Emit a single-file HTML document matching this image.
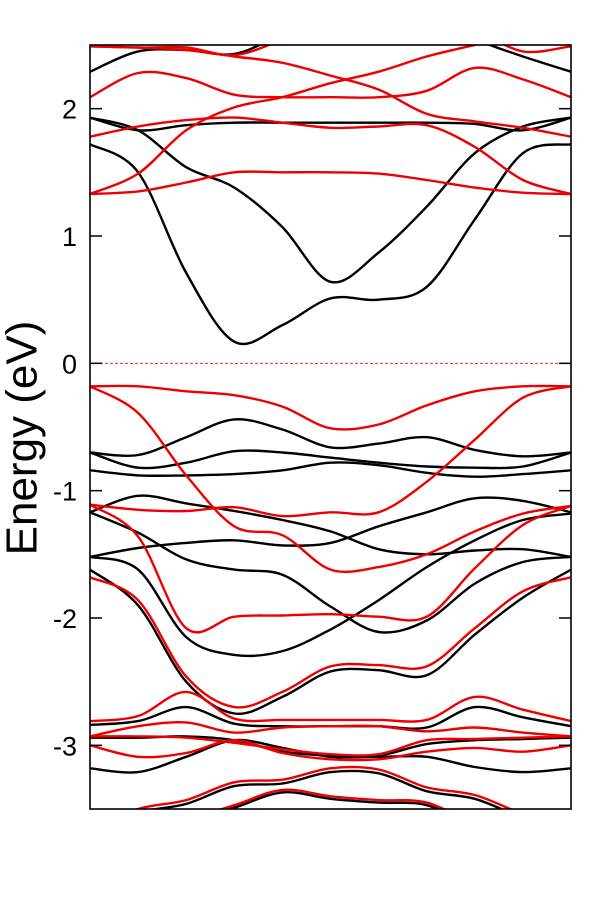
<!DOCTYPE html>
<html><head><meta charset="utf-8"><style>
html,body{margin:0;padding:0;background:#fff;}
#wrap{width:601px;height:900px;position:relative;}
svg text{font-family:"Liberation Sans",Arial,sans-serif;}
</style></head><body>
<div id="wrap">
<svg id="chart" width="601" height="900" viewBox="0 0 601 900">
<defs><clipPath id="plotclip"><rect x="90" y="45" width="481" height="764"/></clipPath></defs>
<g id="bands" clip-path="url(#plotclip)"></g>
<g id="axes"></g>
<text x="25" y="438" transform="rotate(-90 25 438)" font-size="44" text-anchor="middle" dominant-baseline="middle" fill="#000">Energy (eV)</text>
</svg>
</div>
<script>
const kPoints = [0,0.1,0.2,0.3,0.4,0.5,0.6,0.7,0.8,0.9,1.0];
const yTicks = [2,1,0,-1,-2,-3];
const yTickLabels = ["2","1","0","-1","-2","-3"];
const fermiLevel = 0;
const blackBands = [
 [1.72,1.50,0.71,0.17,0.30,0.51,0.50,0.60,1.13,1.65,1.72],
 [1.93,1.83,1.54,1.38,1.07,0.64,0.87,1.23,1.65,1.86,1.93],
 [1.93,1.83,1.87,1.89,1.89,1.89,1.89,1.89,1.88,1.83,1.93],
 [2.29,2.45,2.46,2.43,2.58,2.70,2.70,2.66,2.54,2.41,2.29],
 [-0.70,-0.72,-0.58,-0.44,-0.52,-0.66,-0.63,-0.58,-0.68,-0.73,-0.70],
 [-0.70,-0.82,-0.78,-0.69,-0.70,-0.74,-0.78,-0.81,-0.82,-0.81,-0.70],
 [-0.84,-0.88,-0.88,-0.87,-0.84,-0.78,-0.80,-0.86,-0.89,-0.87,-0.84],
 [-1.17,-1.04,-1.10,-1.16,-1.23,-1.32,-1.46,-1.50,-1.47,-1.46,-1.52],
 [-1.52,-1.45,-1.41,-1.39,-1.43,-1.41,-1.28,-1.17,-1.06,-1.08,-1.17],
 [-1.17,-1.33,-1.54,-1.62,-1.66,-1.91,-2.11,-2.02,-1.73,-1.56,-1.52],
 [-1.52,-1.62,-2.15,-2.29,-2.26,-2.09,-1.86,-1.60,-1.39,-1.23,-1.18],
 [-1.62,-1.90,-2.50,-2.75,-2.62,-2.42,-2.41,-2.45,-2.13,-1.84,-1.62],
 [-2.84,-2.81,-2.70,-2.83,-2.85,-2.85,-2.85,-2.86,-2.70,-2.78,-2.85],
 [-3.18,-3.21,-3.09,-2.96,-3.02,-3.09,-3.09,-3.09,-3.17,-3.21,-3.18],
 [-2.94,-2.94,-2.93,-2.96,-3.05,-3.08,-3.08,-2.99,-2.96,-2.95,-2.94],
 [-3.69,-3.53,-3.46,-3.32,-3.30,-3.21,-3.22,-3.36,-3.42,-3.57,-3.69],
 [-3.76,-3.68,-3.60,-3.49,-3.37,-3.42,-3.45,-3.47,-3.64,-3.76,-3.76]
];
const redBands = [
 [1.33,1.35,1.42,1.50,1.50,1.50,1.49,1.44,1.38,1.34,1.33],
 [1.33,1.49,1.83,2.01,2.09,2.20,2.29,2.41,2.50,2.58,2.62],
 [2.49,2.48,2.46,2.41,2.36,2.26,2.15,1.96,1.90,1.85,1.78],
 [1.78,1.86,1.91,1.93,1.89,1.85,1.86,1.87,1.70,1.44,1.33],
 [2.09,2.28,2.24,2.11,2.09,2.09,2.09,2.14,2.32,2.23,2.09],
 [2.49,2.48,2.48,2.42,2.54,2.66,2.74,2.74,2.62,2.45,2.49],
 [-0.18,-0.18,-0.22,-0.25,-0.34,-0.51,-0.48,-0.33,-0.22,-0.18,-0.18],
 [-0.18,-0.39,-0.88,-1.28,-1.35,-1.62,-1.60,-1.50,-1.32,-1.18,-1.12],
 [-1.11,-1.15,-1.16,-1.13,-1.20,-1.17,-1.17,-0.93,-0.60,-0.27,-0.18],
 [-1.11,-1.36,-2.08,-1.99,-1.98,-1.97,-1.99,-1.99,-1.61,-1.27,-1.12],
 [-1.68,-1.86,-2.46,-2.70,-2.58,-2.38,-2.37,-2.38,-2.08,-1.79,-1.68],
 [-2.81,-2.77,-2.58,-2.79,-2.80,-2.80,-2.80,-2.80,-2.62,-2.72,-2.81],
 [-2.93,-2.85,-2.82,-2.90,-2.86,-2.85,-2.85,-2.89,-2.86,-2.90,-2.93],
 [-3.00,-3.09,-3.06,-2.96,-3.06,-3.11,-3.11,-3.05,-3.02,-3.05,-3.00],
 [-2.93,-2.93,-2.94,-2.98,-3.03,-3.07,-3.07,-2.96,-2.95,-2.94,-2.93],
 [-3.66,-3.50,-3.43,-3.29,-3.27,-3.18,-3.19,-3.33,-3.39,-3.54,-3.66],
 [-3.74,-3.66,-3.58,-3.47,-3.35,-3.40,-3.43,-3.45,-3.62,-3.74,-3.74]
];
const X0=90,X1=571,Y0=45,Y1=809,EMIN=-3.5,EMAX=2.5;
function xScale(k){return X0+(k-kPoints[0])/(kPoints[kPoints.length-1]-kPoints[0])*(X1-X0);}
function yScale(e){return Y1-(e-EMIN)/(EMAX-EMIN)*(Y1-Y0);}
const NS="http://www.w3.org/2000/svg";
function smoothPath(vals){
  const p=vals.map((v,i)=>[xScale(kPoints[i]),yScale(v)]);
  let d="M"+p[0][0].toFixed(1)+","+p[0][1].toFixed(1);
  for(let i=0;i<p.length-1;i++){
    const a=p[i-1]||p[i],b=p[i],c=p[i+1],e=p[i+2]||p[i+1];
    const c1=[b[0]+(c[0]-a[0])/6,b[1]+(c[1]-a[1])/6];
    const c2=[c[0]-(e[0]-b[0])/6,c[1]-(e[1]-b[1])/6];
    d+=" C"+c1[0].toFixed(1)+","+c1[1].toFixed(1)+" "+c2[0].toFixed(1)+","+c2[1].toFixed(1)+" "+c[0].toFixed(1)+","+c[1].toFixed(1);
  }
  return d;
}
const bandsG=document.getElementById('bands');
const fl=document.createElementNS(NS,'line');
fl.setAttribute('x1',X0);fl.setAttribute('x2',X1);
fl.setAttribute('y1',yScale(fermiLevel));fl.setAttribute('y2',yScale(fermiLevel));
fl.setAttribute('stroke','#e83030');fl.setAttribute('stroke-width','1');fl.setAttribute('stroke-dasharray','3,2');


bandsG.appendChild(fl);
blackBands.forEach((b,i)=>{
  const path=document.createElementNS(NS,'path');
  path.setAttribute('d',smoothPath(b));
  path.setAttribute('fill','none');path.setAttribute('stroke','#000');path.setAttribute('stroke-width','2.4');
  
  
  bandsG.appendChild(path);
});
redBands.forEach((b,i)=>{
  const path=document.createElementNS(NS,'path');
  path.setAttribute('d',smoothPath(b));
  path.setAttribute('fill','none');path.setAttribute('stroke','#ee0000');path.setAttribute('stroke-width','2.4');
  
  
  bandsG.appendChild(path);
});
const axesG=document.getElementById('axes');
const frame=document.createElementNS(NS,'rect');
frame.setAttribute('x',X0);frame.setAttribute('y',Y0);frame.setAttribute('width',X1-X0);frame.setAttribute('height',Y1-Y0);
frame.setAttribute('fill','none');frame.setAttribute('stroke','#000');frame.setAttribute('stroke-width','1.6');


axesG.appendChild(frame);
yTicks.forEach((t,i)=>{
  const y=yScale(t);
  [[X0,X0+12],[X1-12,X1]].forEach((xx,j)=>{
    const ln=document.createElementNS(NS,'line');
    ln.setAttribute('x1',xx[0]);ln.setAttribute('x2',xx[1]);ln.setAttribute('y1',y);ln.setAttribute('y2',y);
    ln.setAttribute('stroke','#000');ln.setAttribute('stroke-width','1.5');
    
    
    axesG.appendChild(ln);
  });
  const tx=document.createElementNS(NS,'text');
  tx.setAttribute('x',77);tx.setAttribute('y',y+10);tx.setAttribute('text-anchor','end');
  tx.setAttribute('font-size','27');tx.setAttribute('fill','#000');
  tx.textContent=yTickLabels[i];
  
  
  axesG.appendChild(tx);
});
</script>
</body></html>
